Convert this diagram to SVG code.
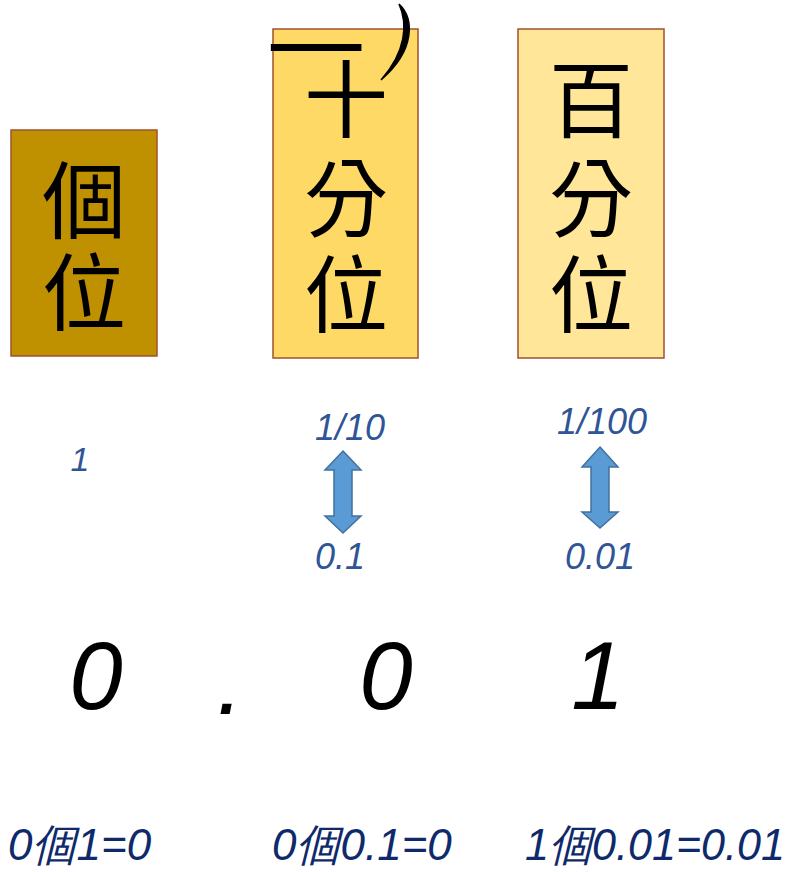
<svg xmlns="http://www.w3.org/2000/svg" width="792" height="872" viewBox="0 0 792 872">
<style>
.cjk{font-family:"Noto Sans CJK TC","Noto Sans CJK SC",sans-serif;font-size:84px;fill:#000;text-anchor:middle}
.hand{font-family:"Liberation Sans","DejaVu Sans",sans-serif;font-style:italic}
.blue{fill:#2F5597;font-size:36px;text-anchor:middle}
.big{fill:#000;font-size:96px;text-anchor:middle}
.navy{fill:#0E2A6B;font-size:44px}
.box{stroke:#A0522D;stroke-width:1.5}
.arr{fill:#5B9BD5;stroke:#41719C;stroke-width:1.5}
</style>
<rect width="792" height="872" fill="#fff"/>
<g id="node-ones">
<rect class="box" x="11" y="130" width="146" height="226" fill="#BF9000"/>
<text class="cjk" x="84" y="232">個</text>
<text class="cjk" x="84" y="324">位</text>
</g>
<g id="node-tenths">
<rect class="box" x="273" y="29" width="145" height="329" fill="#FFD966"/>
<text class="cjk" x="346" y="131">十</text>
<text class="cjk" x="346" y="230">分</text>
<text class="cjk" x="346" y="326">位</text>
<text class="cjk" transform="translate(316,81) scale(1.15,1)" style="font-size:86px">一</text>
<path d="M399,4 C414,18 416,50 381,80 C406,52 408,24 399,4 Z" fill="#000" stroke="#000" stroke-width="1.5"/>
</g>
<g id="node-hundredths">
<rect class="box" x="518" y="29" width="146" height="329" fill="#FFE699"/>
<text class="cjk" x="591" y="131">百</text>
<text class="cjk" x="591" y="230">分</text>
<text class="cjk" x="591" y="326">位</text>
</g>
<g id="labels">
<text class="hand blue" x="80" y="471" style="font-size:34px">1</text>
<text class="hand blue" x="350" y="440">1/10</text>
<text class="hand blue" x="602" y="434">1/100</text>
<text class="hand blue" x="340" y="569">0.1</text>
<text class="hand blue" x="600" y="569">0.01</text>
<text class="hand big" x="96" y="709">0</text>
<text class="hand big" x="230" y="714">.</text>
<text class="hand big" x="386" y="709">0</text>
<text class="hand big" x="598" y="709">1</text>
<text class="hand navy" x="8" y="860">0個1=0</text>
<text class="hand navy" x="272" y="860">0個0.1=0</text>
<text class="hand navy" x="525" y="860" textLength="260" lengthAdjust="spacingAndGlyphs">1個0.01=0.01</text>
</g>
<g id="connectors">
<path class="arr" d="M343,451 L361,470 L352,470 L352,516 L361,516 L343,533 L325,516 L334,516 L334,470 L325,470 Z"/>
<path class="arr" d="M600,447 L618,467 L609,467 L609,512 L618,512 L600,528 L582,512 L591,512 L591,467 L582,467 Z"/>
</g>
</svg>
